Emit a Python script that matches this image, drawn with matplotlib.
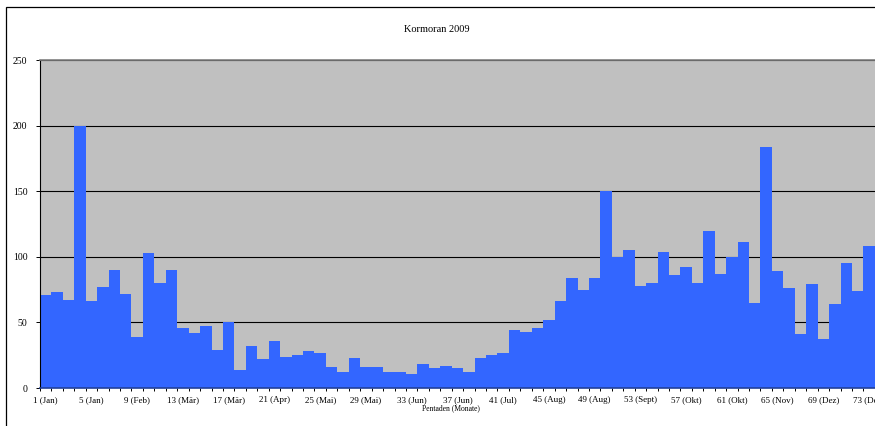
import numpy as np
import matplotlib.pyplot as plt
from matplotlib.patches import Rectangle

# Kormoran counts per pentad, 2009
pentaden = np.arange(1, 74)
anzahl = [71, 73, 67, 200, 66, 77, 90, 72, 39, 103,
          80, 90, 46, 42, 47, 29, 50, 14, 32, 22,
          36, 24, 25, 28, 27, 16, 12, 23, 16, 16,
          12, 12, 11, 18, 15, 17, 15, 12, 23, 25,
          27, 44, 43, 46, 52, 66, 84, 75, 84, 150,
          100, 105, 78, 80, 104, 86, 92, 80, 120, 87,
          100, 111, 65, 184, 89, 76, 41, 79, 37, 64,
          95, 74, 108]

label_pos = [1, 5, 9, 13, 17, 21, 25, 29, 33, 37, 41, 45, 49, 53, 57, 61, 65, 69, 73]
label_monat = ['Jan', 'Jan', 'Feb', 'Mär', 'Mär', 'Apr', 'Mai', 'Mai', 'Jun', 'Jun',
               'Jul', 'Aug', 'Aug', 'Sept', 'Okt', 'Okt', 'Nov', 'Dez', 'Dez']
x_labels = [f'{p} ({m})' for p, m in zip(label_pos, label_monat)]

plt.rcParams['font.family'] = ['Liberation Serif', 'DejaVu Serif']

W, H = 875, 426
fig = plt.figure(figsize=(W / 100, H / 100), dpi=100)

# outer chart frame (cropped on right and bottom)
fig.patches.append(Rectangle((6 / W, -0.1), 1.2, 1 - 7 / H + 0.1, transform=fig.transFigure,
                             fill=False, edgecolor='black', linewidth=0.9))

ax = fig.add_axes([40 / W, 38 / H, 836 / W, 328 / H])
ax.set_facecolor('#C0C0C0')
ax.bar(pentaden, anzahl, width=1.0, color='#3366FF', zorder=2)

ax.set_xlim(0.5, 73.6)
ax.set_ylim(0, 250)
ax.set_yticks([0, 50, 100, 150, 200, 250])
ax.grid(axis='y', color='black', linewidth=0.8, zorder=1)
ax.set_axisbelow(True)

# ticks at bar boundaries, labels every 4th pentad
ax.set_xticks(np.arange(0.5, 74, 1))
ax.set_xticklabels([])
ax.set_xticks(label_pos, minor=True)
ax.set_xticklabels(x_labels, minor=True)
ax.tick_params(axis='x', which='major', length=2.5, width=0.7, direction='out')
ax.tick_params(axis='x', which='minor', length=0, pad=6, labelsize=6.5)
ax.tick_params(axis='y', length=3, width=0.7, direction='out', labelsize=7, pad=6)

ax.spines['right'].set_visible(False)
ax.spines['top'].set_color('#808080')
ax.spines['top'].set_linewidth(1.2)
ax.spines['left'].set_color('black')
ax.spines['left'].set_linewidth(0.8)
ax.spines['bottom'].set_color('#22409a')
ax.spines['bottom'].set_linewidth(1.2)

fig.text(437 / W, 1 - 29 / H, 'Kormoran 2009', ha='center', va='center', fontsize=7.5)
fig.text(451 / W, 1 - 408 / H, 'Pentaden (Monate)', ha='center', va='center', fontsize=5.5)

fig.savefig('out.png', dpi=100)
